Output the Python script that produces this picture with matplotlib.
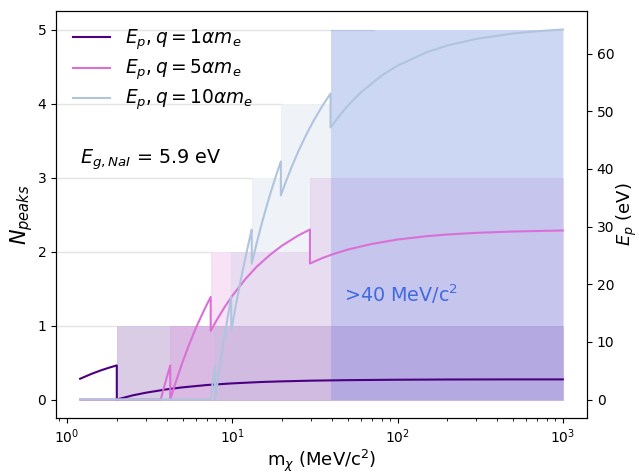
import matplotlib
matplotlib.use('Agg')
import matplotlib.pyplot as plt

# N_peaks step functions (mass thresholds in MeV/c^2 and peak counts)
m_steps_q1 = [1.2, 2.0, 1000]
n_steps_q1 = [0, 1, 1]
m_steps_q5 = [1.2, 4.21, 7.4, 29.5, 1000]
n_steps_q5 = [0, 1, 2, 3, 3]
m_steps_q10 = [1.2, 7.86, 9.85, 13.1, 19.66, 39.3, 1000]
n_steps_q10 = [0, 1, 2, 3, 4, 5, 5]
m_heavy = [39.3, 1000]
n_heavy = [5, 5]

# light guide lines at each peak count, ending where the steps start
guide_levels = [1, 2, 3, 4, 5]
guide_ends = [2.0, 7.4, 13.1, 19.66, 72]

# E_p curves (eV)
m_q1 = [1.2, 1.4, 1.6, 1.8, 2.0, 2.0, 2.5, 3, 4, 5, 7, 10, 15, 20, 30, 50, 100, 200, 500, 1000]
ep_q1 = [3.6, 4.43, 5.05, 5.53, 5.92, 0.0, 0.72, 1.18, 1.76, 2.11, 2.51, 2.8, 3.04, 3.15, 3.27, 3.36, 3.43,
         3.47, 3.49, 3.49]

m_q5 = [1.2, 3.69, 3.9, 4.1, 4.21, 4.21, 4.5, 5, 5.5, 6, 6.5, 7, 7.4, 7.4, 8, 9, 10, 12, 14, 17, 20, 25,
        29.5, 29.5, 35, 40, 50, 70, 100, 150, 200, 300, 500, 1000]
ep_q5 = [0, 0, 2.6, 4.76, 5.9, 0, 2.63, 6.5, 9.66, 12.3, 14.5, 16.44, 17.8, 11.9, 13.65, 16.07, 18.0, 20.9,
         23.0, 25.16, 26.7, 28.44, 29.5, 23.6, 24.53, 25.15, 26.02, 27.0, 27.76, 28.34, 28.63, 28.92, 29.15, 29.33]

m_q10 = [1.2, 7.37, 7.6, 7.86, 7.86, 8.2, 8.6, 9, 9.5, 9.85, 9.85, 10.5, 11.2, 12, 12.8, 13.1, 13.1, 14, 15,
         16, 17, 18.5, 19.66, 19.66, 21, 23, 25, 28, 31, 35, 39.3, 39.3, 45, 50, 60, 80, 100, 150, 200, 300,
         500, 700, 1000]
ep_q10 = [0, 0, 2.82, 5.85, 0, 3.62, 7.57, 11.17, 15.24, 17.84, 11.94, 16.31, 20.46, 24.6, 28.22, 29.47, 23.57,
          26.99, 30.3, 33.2, 35.76, 39.08, 41.3, 35.4, 37.66, 40.54, 42.96, 45.94, 48.35, 50.91, 53.1, 47.2,
          49.43, 50.98, 53.3, 56.2, 57.94, 60.26, 61.42, 62.58, 63.51, 63.91, 64.2]

fig, ax = plt.subplots(figsize=(6.39, 4.75), dpi=100)
fig.subplots_adjust(left=0.0876, right=0.9186, top=0.9768, bottom=0.12)

ax.set_xscale('log')
ax.set_xlim(0.857, 1400)
ax.hlines(guide_levels, 0.5, guide_ends, color='lightgray', alpha=0.6, lw=1, zorder=0)

ax.fill_between(m_steps_q1, 0, n_steps_q1, step='post', color='indigo', alpha=0.2, lw=0.5)
ax.fill_between(m_steps_q5, 0, n_steps_q5, step='post', color='orchid', alpha=0.2, lw=0.5)
ax.fill_between(m_steps_q10, 0, n_steps_q10, step='post', color='lightsteelblue', alpha=0.2, lw=0.5)
ax.fill_between(m_heavy, 0, n_heavy, color='royalblue', alpha=0.2, lw=0)
ax.set_ylim(-0.25, 5.25)

ax.set_xlabel(r'm$_\chi$ (MeV/c$^2$)', fontsize=13, labelpad=1)
ax.set_ylabel(r'$N_{peaks}$', fontsize=15, labelpad=2)
ax.text(1.2, 3.19, r'$E_{g,NaI}$ = 5.9 eV', fontsize=13.8)
ax.text(47.5, 1.32, r'>40 MeV/c$^2$', fontsize=13.8, color='royalblue')

ax2 = ax.twinx()
ax2.plot(m_q1, ep_q1, color='indigo', label=r'$E_p, q = 1\alpha m_e$')
ax2.plot(m_q5, ep_q5, color='orchid', label=r'$E_p, q = 5\alpha m_e$')
ax2.plot(m_q10, ep_q10, color='lightsteelblue', label=r'$E_p, q = 10\alpha m_e$')
ax2.set_ylabel(r'$E_p$ (eV)', fontsize=13, labelpad=0)
ax2.legend(loc='upper left', frameon=False, fontsize=13.4, labelspacing=0.3)

plt.savefig('out.png', dpi=100)
